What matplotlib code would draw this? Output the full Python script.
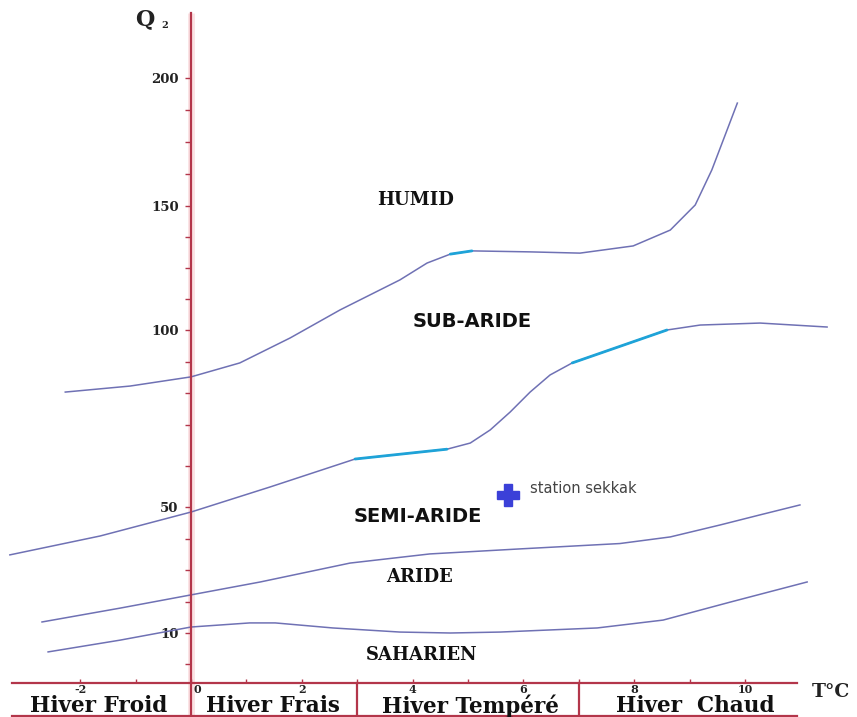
import numpy as np
import matplotlib
matplotlib.use('Agg')
import matplotlib.pyplot as plt

# Q2 axis of the climagram: tick spacing is not uniform, so map Q2 onto a
# drawing coordinate with a piecewise linear scale
Q_ANCH = [-17.1, 0, 10, 50, 60, 70, 100, 150, 200, 230.5]
P_ANCH = [-33, 20, 51, 177, 218, 259, 354, 478, 606, 684]

# boundary curves (T in degC, Q2)
humid_T = [-2.27, -1.10, 0.0, 0.88, 1.79, 2.69, 3.77, 4.26, 4.68, 5.07, 6.12, 7.02, 7.98, 8.65, 9.10, 9.40, 9.64, 9.86]
humid_Q = [80.4, 82.3, 85.2, 89.6, 97.5, 108.1, 120.2, 127.0, 130.6, 131.9, 131.5, 131.0, 133.9, 140.3, 150.4, 164.1, 177.7, 190.2]

subaride_T = [-3.27, -1.64, 0.0, 1.43, 2.96, 4.62, 5.04, 5.40, 5.76, 6.12, 6.48, 6.88, 8.59, 9.19, 10.27, 11.48]
subaride_Q = [34.8, 40.8, 48.4, 54.9, 61.7, 64.1, 65.6, 68.8, 74.1, 80.4, 85.8, 89.6, 100.0, 102.0, 102.8, 101.2]

semiaride_T = [-2.69, -1.28, 0.0, 1.25, 2.87, 4.31, 5.94, 7.74, 8.65, 9.55, 10.27, 10.99]
semiaride_Q = [13.5, 17.9, 22.1, 26.2, 32.2, 35.1, 36.7, 38.4, 40.5, 44.3, 47.5, 50.5]

aride_T = [-2.58, -1.28, 0.0, 1.06, 1.52, 2.56, 3.77, 4.68, 5.58, 7.33, 8.52, 9.73, 11.12]
aride_Q = [3.9, 7.7, 11.9, 13.2, 13.2, 11.6, 10.3, 10.0, 10.3, 11.6, 14.1, 19.8, 26.2]

# highlighted stretches (T ranges) on the curves
humid_hl = [(4.68, 5.07)]
subaride_hl = [(2.96, 4.62), (6.88, 8.59)]

station_T = 5.72
station_Q = 52.9
station_name = 'station sekkak'

zones = ['HUMID', 'SUB-ARIDE', 'SEMI-ARIDE', 'ARIDE', 'SAHARIEN']
zone_T = [4.06, 5.07, 4.10, 4.13, 4.17]
zone_Q = [152.3, 103.6, 47.1, 27.8, 2.9]
zone_font = ['DejaVu Serif', 'DejaVu Sans', 'DejaVu Sans', 'DejaVu Serif', 'DejaVu Serif']

winters = ['Hiver Froid', 'Hiver Frais', 'Hiver Tempéré', 'Hiver  Chaud']
winter_T = [-1.66, 1.48, 5.05, 9.10]
winter_edges = [0, 3, 7]

q_major = [10, 50, 100, 150, 200]
q_minor = [0, 20, 30, 40, 60, 70, 80, 90, 112.5, 125, 137.5, 162.5, 175, 187.5]
t_ticks = list(range(-2, 11))

RED = '#b3364a'
HALO = '#fbe3e5'
CURVE = '#6f71b4'
CYAN = '#1ea3d8'
SERIF = 'DejaVu Serif'

def fwd(q):
    return np.interp(q, Q_ANCH, P_ANCH)

def inv(p):
    return np.interp(p, P_ANCH, Q_ANCH)

def segment(T, Q, t0, t1):
    T = np.asarray(T)
    Q = np.asarray(Q)
    m = (T >= t0 - 1e-9) & (T <= t1 + 1e-9)
    return T[m], Q[m]

fig = plt.figure(figsize=(8.57, 7.17), dpi=100)
ax = fig.add_axes([0, 0, 1, 1])
ax.set_yscale('function', functions=(fwd, inv))
ax.set_xlim(-3.448, 12.02)
ax.set_ylim(-17.1, 230.5)

base_q = -6.1
bottom_q = -16.8
top_q = 225.4
x_left, x_right = -3.23, 10.94

# axes drawn as red spines crossing at T=0
for s in ['top', 'right']:
    ax.spines[s].set_visible(False)
ax.spines['left'].set_position(('data', 0))
ax.spines['left'].set_bounds(bottom_q - 1, top_q)
ax.spines['bottom'].set_position(('data', base_q))
ax.spines['bottom'].set_bounds(x_left, x_right)
for s in ['left', 'bottom']:
    ax.spines[s].set_color(RED)
    ax.spines[s].set_linewidth(1.6)
    ax.spines[s].set_zorder(3)

# faint halo behind the vertical axis
ax.plot([0, 0], [bottom_q - 1, top_q], color=HALO, lw=5, zorder=1, solid_capstyle='butt')

# winter class band below the T axis
ax.plot([x_left, x_right], [bottom_q, bottom_q], color=RED, lw=1.6, zorder=3)
for e in winter_edges[1:]:
    ax.plot([e, e], [base_q, bottom_q - 1], color=RED, lw=1.6, zorder=3)
for name, t in zip(winters, winter_T):
    ax.text(t, -13.6, name, ha='center', va='center', fontsize=15.5,
            fontfamily=SERIF, fontweight='bold', color='#111111')

ax.set_yticks(q_major)
ax.set_yticklabels([str(v) for v in q_major])
ax.set_yticks(q_minor, minor=True)
ax.tick_params(axis='y', which='both', direction='out', length=4, width=1,
               color=RED, pad=5)
ax.tick_params(axis='y', labelsize=9.5, labelcolor='#222222')

ax.set_xticks(t_ticks)
ax.set_xticklabels([str(t) if t % 2 == 0 and t != 0 else '' for t in t_ticks])
ax.tick_params(axis='x', direction='in', length=3, width=1, color=RED, pad=0.5,
               labelsize=8, labelcolor='#222222')
for lab in ax.get_xticklabels() + ax.get_yticklabels():
    lab.set_fontfamily(SERIF)
    lab.set_fontweight('bold')
ax.text(0.11, -6.6, '0', ha='center', va='top', fontsize=8,
        fontfamily=SERIF, fontweight='bold', color='#222222')

ax.text(11.55, -9.0, 'T°C', ha='center', va='center', fontsize=13.5,
        fontfamily=SERIF, fontweight='bold', color='#222222')
ax.text(-0.83, 223, 'Q', ha='center', va='center', fontsize=16,
        fontfamily=SERIF, fontweight='bold', color='#222222')
ax.text(-0.47, 220.7, '2', ha='center', va='center', fontsize=7,
        fontfamily=SERIF, fontweight='bold', color='#222222')

# zone boundaries
for T, Q, hl in [(humid_T, humid_Q, humid_hl), (subaride_T, subaride_Q, subaride_hl),
                 (semiaride_T, semiaride_Q, []), (aride_T, aride_Q, [])]:
    ax.plot(T, Q, color=CURVE, lw=1.1, zorder=2)
    for t0, t1 in hl:
        st, sq = segment(T, Q, t0, t1)
        ax.plot(st, sq, color=CYAN, lw=2.0, zorder=2, solid_capstyle='round')

for name, t, q, fam in zip(zones, zone_T, zone_Q, zone_font):
    size = 14 if fam == 'DejaVu Sans' else 13
    ax.text(t, q, name, ha='center', va='center', fontsize=size,
            fontfamily=fam, fontweight='bold', color='#111111')

ax.plot([station_T], [station_Q], marker='P', ms=16, color='#3b40d8',
        mec='#3b40d8', zorder=4)
ax.text(station_T + 0.4, 54.6, station_name, ha='left', va='center',
        fontsize=10.5, fontfamily='DejaVu Sans', color='#444444')

fig.savefig('out.png', dpi=100)
